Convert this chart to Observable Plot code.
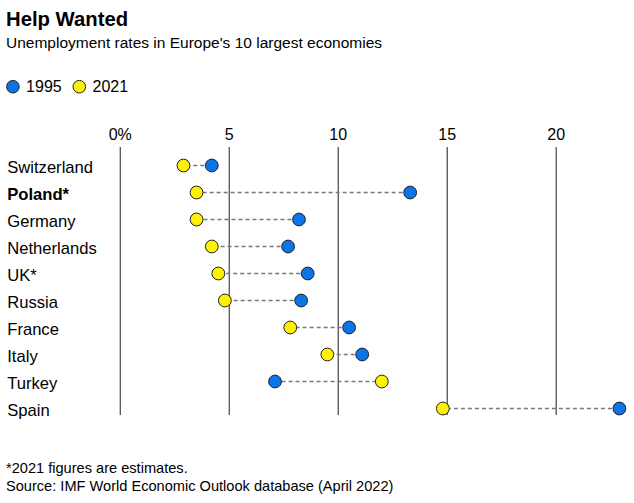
<!DOCTYPE html>
<html>
<head>
<meta charset="utf-8">
<script src="https://cdn.jsdelivr.net/npm/d3@7"></script>
<script src="https://cdn.jsdelivr.net/npm/@observablehq/plot@0.6"></script>
<style>
  body { margin: 0; background: #fff; font-family: "Liberation Sans", Arial, sans-serif; color: #000; }
  #wrap { position: relative; width: 634px; height: 503px; overflow: hidden; }
  .t { position: absolute; left: 6px; white-space: nowrap; line-height: 1.117; }
  #title { top: 7.6px; font-size: 20.3px; font-weight: bold; }
  #subtitle { top: 34.3px; font-size: 15.5px; }
  #legend { position: absolute; left: 0; top: 76px; }
  #chart { position: absolute; left: 0; top: 115px; }
  #note { top: 460.1px; font-size: 14.6px; }
  #source { top: 477.8px; font-size: 14.6px; }
</style>
</head>
<body>
<div id="wrap">
  <div class="t" id="title">Help Wanted</div>
  <div class="t" id="subtitle">Unemployment rates in Europe's 10 largest economies</div>
  <div id="legend"></div>
  <div id="chart"></div>
  <div class="t" id="note">*2021 figures are estimates.</div>
  <div class="t" id="source">Source: IMF World Economic Outlook database (April 2022)</div>
</div>
<script>
const countries = ["Switzerland", "Poland*", "Germany", "Netherlands", "UK*", "Russia", "France", "Italy", "Turkey", "Spain"];
const rate1995 = [4.2, 13.3, 8.2, 7.7, 8.6, 8.3, 10.5, 11.1, 7.1, 22.9];
const rate2021 = [2.9, 3.5, 3.5, 4.2, 4.5, 4.8, 7.8, 9.5, 12.0, 14.8];
const ticks = [0, 5, 10, 15, 20];
const seriesNames = ["1995", "2021"];
const colors = ["#0a74e8", "#fff200"];

const data = countries.map((c, i) => ({country: c, v1995: rate1995[i], v2021: rate2021[i]}));

// Legend
const leg = d3.select("#legend").append("svg").attr("width", 200).attr("height", 22);
const lx = [12.9, 79.3];
seriesNames.forEach((s, i) => {
  leg.append("circle").attr("cx", lx[i]).attr("cy", 10.7).attr("r", 6.3)
    .attr("fill", colors[i]).attr("stroke", "#222").attr("stroke-width", 1);
  leg.append("text").attr("x", lx[i] + 13.2).attr("y", 16.3)
    .attr("font-family", "Liberation Sans, Arial, sans-serif").attr("font-size", 16)
    .text(s);
});

const plot = Plot.plot({
  width: 634,
  height: 310,
  marginLeft: 119.75,
  marginRight: 78.3,
  marginTop: 32,
  marginBottom: 10,
  style: {fontFamily: "Liberation Sans, Arial, sans-serif", fontSize: "16px", color: "#000", background: "#fff"},
  x: {domain: [0, 20]},
  y: {type: "point", domain: countries, padding: 0, insetTop: 17.3, insetBottom: 6.3, axis: null},
  marks: [
    Plot.ruleX(ticks, {stroke: "#333", strokeWidth: 1.1}),
    Plot.axisX(ticks, {anchor: "top", tickSize: 0, tickPadding: 8, fontSize: 16, tickFormat: d => d === 0 ? "0%" : String(d)}),
    Plot.ruleY(data, {y: "country", x1: "v1995", x2: "v2021", stroke: "#777", strokeWidth: 1.3, strokeDasharray: "4,3"}),
    Plot.dot(data, {x: "v1995", y: "country", r: 6.4, fill: colors[0], stroke: "#222", strokeWidth: 1}),
    Plot.dot(data, {x: "v2021", y: "country", r: 6.4, fill: colors[1], stroke: "#222", strokeWidth: 1}),
    Plot.text(data.filter(d => d.country !== "Poland*"), {y: "country", text: "country", frameAnchor: "left", dx: -113, dy: 2, textAnchor: "start", fontSize: 16.6, fill: "#000"}),
    Plot.text(data.filter(d => d.country === "Poland*"), {y: "country", text: "country", frameAnchor: "left", dx: -113, dy: 2, textAnchor: "start", fontSize: 16.6, fontWeight: "bold", fill: "#000"})
  ]
});
document.getElementById("chart").appendChild(plot);
</script>
</body>
</html>
